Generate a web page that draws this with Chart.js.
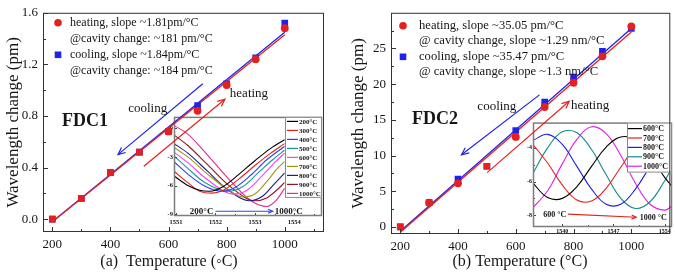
<!DOCTYPE html>
<html lang="en">
<head>
<meta charset="UTF-8">
<title>FDC wavelength change vs temperature</title>
<script src="https://cdn.jsdelivr.net/npm/chart.js@4.4.0/dist/chart.umd.min.js"></script>
<style>
  body { margin: 0; background: #fff; }
  .fig { position: relative; width: 675px; height: 276px; overflow: hidden; background: #fff; }
  .fig canvas { position: absolute; }
</style>
</head>
<body>
<div class="fig">
  <canvas id="insetA" style="left:160px;top:112px" width="165" height="117"></canvas>
  <canvas id="insetB" style="left:522px;top:118px" width="153" height="118"></canvas>
  <canvas id="mainA" style="left:0;top:0" width="338" height="276"></canvas>
  <canvas id="mainB" style="left:338px;top:0" width="337" height="276"></canvas>
</div>
<script>
// ---- data ----
const temps = [200, 300, 400, 500, 600, 700, 800, 900, 1000];

// (a) FDC1, wavelength change
const heatA = [0.00, 0.16, 0.36, 0.52, 0.68, 0.84, 1.04, 1.24, 1.48];
const coolA = [0.00, 0.16, 0.36, 0.52, 0.68, 0.88, 1.05, 1.25, 1.52];
const fitX = [200, 1000];
const fitHeatA = [-0.02, 1.43];
const fitCoolA = [-0.02, 1.45];

// (b) FDC2
const heatB = [0.0, 3.4, 6.1, 8.5, 12.6, 16.8, 20.2, 23.9, 28.1];
const coolB = [0.0, 3.4, 6.7, 8.5, 13.5, 17.5, 21.0, 24.6, 27.8];
const fitHeatB = [-0.75, 27.3];
const fitCoolB = [-0.6, 27.8];

// tick positions
const mainXTicks = [200, 300, 400, 500, 600, 700, 800, 900, 1000, 1100];
const yTicksA = [0, 0.2, 0.4, 0.6, 0.8, 1.0, 1.2, 1.4, 1.6];
const yTicksB = [0, 2.5, 5, 7.5, 10, 12.5, 15, 17.5, 20, 22.5, 25, 27.5];

// inset (a): transmission spectra, 200..1000 °C
const specALabels = ['200°C', '300°C', '400°C', '500°C', '600°C', '700°C', '800°C', '900°C', '1000°C'];
const specAX = [
  [1550.95, 1551.3, 1551.6, 1551.85, 1552.2, 1552.6, 1553.0, 1553.4, 1553.75],
  [1550.95, 1551.3, 1551.6, 1551.9, 1552.2, 1552.6, 1553.0, 1553.4, 1553.75],
  [1550.95, 1551.3, 1551.7, 1552.15, 1552.5, 1552.9, 1553.3, 1553.75],
  [1550.95, 1551.3, 1551.7, 1552.3, 1552.7, 1553.1, 1553.45, 1553.75],
  [1550.95, 1551.3, 1551.8, 1552.45, 1552.8, 1553.2, 1553.5, 1553.75],
  [1550.95, 1551.3, 1551.8, 1552.3, 1552.7, 1553.0, 1553.3, 1553.55, 1553.75],
  [1550.95, 1551.3, 1551.8, 1552.3, 1552.85, 1553.2, 1553.5, 1553.75],
  [1550.95, 1551.3, 1551.8, 1552.4, 1553.0, 1553.3, 1553.55, 1553.75],
  [1550.95, 1551.3, 1551.8, 1552.4, 1552.9, 1553.3, 1553.55, 1553.75]
];
const specAY = [
  [-5.0, -6.0, -6.5, -6.6, -6.1, -4.8, -3.4, -2.1, -1.2],
  [-4.5, -5.7, -6.6, -6.8, -6.5, -5.3, -3.9, -2.6, -1.6],
  [-3.5, -4.8, -6.0, -6.6, -6.2, -4.9, -3.3, -1.9],
  [-2.9, -4.2, -5.6, -6.6, -6.1, -4.6, -3.3, -2.3],
  [-2.5, -3.6, -5.4, -6.9, -6.5, -4.9, -3.6, -2.6],
  [-2.0, -3.0, -4.8, -6.4, -7.2, -6.9, -5.6, -4.3, -3.5],
  [-1.6, -2.6, -4.5, -6.4, -7.6, -7.1, -5.8, -4.7],
  [-0.7, -1.8, -3.8, -6.2, -7.6, -7.3, -6.5, -5.7],
  [0.3, -0.6, -2.8, -5.6, -7.6, -8.2, -7.5, -6.3]
];
const specAXTicks = [1551, 1551.5, 1552, 1552.5, 1553, 1553.5, 1554, 1554.5];
const specAYTicks = [0, -3, -6, -9];

// inset (b): transmission spectra, 600..1000 °C
const specBLabels = ['600°C', '700°C', '800°C', '900°C', '1000°C'];
const specBX = [1536, 1538, 1540, 1542, 1544, 1546, 1548, 1550, 1552, 1554, 1555];
const specBY = [
  [-6.1, -6.95, -7.0, -6.3, -5.1, -3.95, -3.35, -3.55, -4.5, -5.75, -6.3],
  [-3.8, -4.9, -6.2, -7.1, -7.15, -6.4, -5.15, -3.95, -3.35, -3.55, -3.95],
  [-3.55, -3.2, -3.8, -5.1, -6.45, -7.35, -7.35, -6.45, -5.1, -3.8, -3.4],
  [-5.5, -4.0, -3.05, -3.1, -4.1, -5.6, -7.0, -7.6, -7.2, -5.95, -5.15],
  [-7.55, -6.55, -4.95, -3.5, -2.75, -3.15, -4.45, -6.1, -7.35, -7.7, -7.45]
];
const specBXTicks = [1540, 1543.5, 1547, 1550.5, 1554];
const specBYTicks = [-3, -4, -5, -6, -7, -8];

// ---- styling ----
const SERIF = "'Liberation Serif', 'Times New Roman', serif";
const RED = '#e5201f';
const BLUE = '#1f22e8';
const INK = '#161616';
const specAColors = ['#000000', '#e3221c', '#2b3ff0', '#18999a', '#ff3cff', '#9c9a16', '#1c1c8f', '#8e1a1a', '#e62a8f'];
const specBColors = ['#000000', '#e3221c', '#2020e0', '#168a8a', '#e020e0'];
const heatStyleA = ['rect', 'rect', 'rect', 'rect', 'circle', 'circle', 'circle', 'circle', 'circle'];
const heatStyleB = ['rect', 'circle', 'circle', 'rect', 'circle', 'circle', 'circle', 'circle', 'circle'];

function drawArrow(ctx, x1, y1, x2, y2, color, head) {
  ctx.strokeStyle = color;
  ctx.lineWidth = 1.2;
  ctx.beginPath();
  ctx.moveTo(x1, y1);
  ctx.lineTo(x2, y2);
  ctx.stroke();
  const ang = Math.atan2(y2 - y1, x2 - x1);
  ctx.beginPath();
  ctx.moveTo(x2 - head * Math.cos(ang - 0.42), y2 - head * Math.sin(ang - 0.42));
  ctx.lineTo(x2, y2);
  ctx.lineTo(x2 - head * Math.cos(ang + 0.42), y2 - head * Math.sin(ang + 0.42));
  ctx.stroke();
}

// frame, inward ticks, arrows, notes and keys
const deco = {
  id: 'deco',
  afterDraw(chart, args, o) {
    const ctx = chart.ctx, a = chart.chartArea;
    const sx = chart.scales.x, sy = chart.scales.y;
    ctx.save();
    ctx.strokeStyle = o.tickColor;
    ctx.lineWidth = 1;
    ctx.beginPath();
    sx.ticks.forEach(t => {
      const px = Math.round(sx.getPixelForValue(t.value)) + 0.5;
      const len = t.label !== '' ? o.tickMajor : o.tickMinor;
      ctx.moveTo(px, a.bottom);
      ctx.lineTo(px, a.bottom - len);
    });
    sy.ticks.forEach(t => {
      const py = Math.round(sy.getPixelForValue(t.value)) + 0.5;
      const len = t.label !== '' ? o.tickMajor : o.tickMinor;
      ctx.moveTo(a.left, py);
      ctx.lineTo(a.left + len, py);
    });
    ctx.stroke();

    ctx.strokeStyle = o.frameColor;
    ctx.lineWidth = o.frameWidth;
    ctx.strokeRect(a.left + 0.5, a.top + 0.5, a.width - 1, a.height - 1);

    (o.box ? [o.box] : []).forEach(b => {
      const bx = a.left + b.dx, by = a.top + b.dy;
      ctx.fillStyle = '#fff';
      ctx.fillRect(bx, by, b.w, b.h);
      ctx.strokeStyle = '#8a8a8a';
      ctx.lineWidth = 1;
      ctx.strokeRect(bx + 0.5, by + 0.5, b.w - 1, b.h - 1);
      ctx.font = b.font;
      ctx.textAlign = 'left';
      ctx.textBaseline = 'middle';
      b.labels.forEach((lab, i) => {
        const ly = by + b.first + i * b.row;
        ctx.strokeStyle = b.colors[i];
        ctx.lineWidth = 1.2;
        ctx.beginPath();
        ctx.moveTo(bx + b.s0, ly);
        ctx.lineTo(bx + b.s1, ly);
        ctx.stroke();
        ctx.fillStyle = INK;
        ctx.fillText(lab, bx + b.tx, ly + 0.5);
      });
    });

    (o.arrows || []).forEach(r => {
      drawArrow(ctx, sx.getPixelForValue(r.from[0]), sy.getPixelForValue(r.from[1]),
        sx.getPixelForValue(r.to[0]), sy.getPixelForValue(r.to[1]), r.color, r.head);
    });

    ctx.textBaseline = 'middle';
    (o.notes || []).forEach(n => {
      ctx.font = n.font;
      ctx.fillStyle = INK;
      ctx.textAlign = n.align || 'left';
      ctx.fillText(n.text, sx.getPixelForValue(n.at[0]), sy.getPixelForValue(n.at[1]));
    });

    (o.keys || []).forEach(k => {
      const ly = a.top + k.dy;
      if (k.marker) {
        ctx.fillStyle = k.color;
        if (k.marker === 'circle') {
          ctx.beginPath();
          ctx.arc(a.left + k.mx, ly, 3.8, 0, 2 * Math.PI);
          ctx.fill();
        } else {
          ctx.fillRect(a.left + k.mx - 3.3, ly - 3.3, 6.6, 6.6);
        }
      }
      ctx.font = o.keyFont;
      ctx.fillStyle = INK;
      ctx.textAlign = 'left';
      ctx.fillText(k.text, a.left + k.tx, ly);
    });

    if (o.xTitle) {
      ctx.font = o.xTitle.font;
      ctx.fillStyle = INK;
      ctx.textAlign = 'center';
      ctx.fillText(o.xTitle.text, o.xTitle.x, o.xTitle.y);
    }
    ctx.restore();
  }
};

function pts(xs, ys) {
  return xs.map((v, i) => ({ x: v, y: ys[i] }));
}

function mainChart(id, p) {
  return new Chart(document.getElementById(id), {
    type: 'scatter',
    data: {
      datasets: [
        { data: pts(temps, p.heat), pointStyle: p.heatStyle, backgroundColor: RED, borderColor: RED,
          pointRadius: c => p.heatStyle[c.dataIndex] === 'rect' ? 4.7 : 3.9, borderWidth: 0, order: 0 },
        { data: pts(temps, p.cool), pointStyle: 'rect', backgroundColor: BLUE, borderColor: BLUE,
          pointRadius: 4.7, borderWidth: 0, order: 1 },
        { data: pts(fitX, p.fitHeat), showLine: true, borderColor: RED, borderWidth: 1.3, pointRadius: 0, order: 2 },
        { data: pts(fitX, p.fitCool), showLine: true, borderColor: BLUE, borderWidth: 1.3, pointRadius: 0, order: 3 }
      ]
    },
    options: {
      responsive: false,
      animation: false,
      events: [],
      layout: { padding: p.pad },
      scales: {
        x: {
          type: 'linear', min: 168, max: 1135,
          afterBuildTicks: s => { s.ticks = mainXTicks.map(v => ({ value: v })); },
          afterFit: s => { s.height = p.xh; },
          ticks: { callback: v => v % 200 === 0 ? String(v) : '', font: { family: SERIF, size: 13 },
            color: INK, padding: 5, maxRotation: 0, autoSkip: false },
          grid: { display: false, drawTicks: false },
          border: { display: false }
        },
        y: {
          type: 'linear', min: p.ymin, max: p.ymax,
          afterBuildTicks: s => { s.ticks = p.yTicks.map(v => ({ value: v })); },
          afterFit: s => { s.width = p.yw; },
          ticks: { callback: p.yLabel, font: { family: SERIF, size: 13 }, color: INK, padding: 5, autoSkip: false },
          grid: { display: false, drawTicks: false },
          border: { display: false },
          title: { display: true, text: 'Wavelength change (pm)', font: { family: SERIF, size: 17 },
            color: INK, padding: { top: p.titlePad, bottom: 0 } }
        }
      },
      plugins: {
        legend: { display: false },
        tooltip: { enabled: false },
        deco: {
          tickColor: '#333', frameColor: '#333', frameWidth: 1, tickMajor: 5, tickMinor: 3,
          keyFont: p.keyFont, keys: p.keys, notes: p.notes, arrows: p.arrows, xTitle: p.xTitle
        }
      }
    },
    plugins: [deco]
  });
}

function insetChart(id, p) {
  return new Chart(document.getElementById(id), {
    type: 'scatter',
    data: {
      datasets: p.ys.map((ys, i) => ({
        data: pts(p.xs[i], ys), showLine: true, borderColor: p.colors[i], borderWidth: 1.1,
        pointRadius: 0, tension: 0.4, cubicInterpolationMode: p.mode
      }))
    },
    options: {
      responsive: false,
      animation: false,
      events: [],
      layout: { padding: p.pad },
      scales: {
        x: {
          type: 'linear', min: p.xmin, max: p.xmax,
          afterBuildTicks: s => { s.ticks = p.xTicks.map(v => ({ value: v })); },
          afterFit: s => { s.height = p.xh; },
          ticks: { callback: p.xLabel, font: { family: SERIF, size: p.tickSize, weight: 'bold' },
            color: INK, padding: p.xpad, maxRotation: 0, autoSkip: false },
          grid: { display: false, drawTicks: false },
          border: { display: false }
        },
        y: {
          type: 'linear', min: p.ymin, max: p.ymax,
          afterBuildTicks: s => { s.ticks = p.yTicks.map(v => ({ value: v })); },
          afterFit: s => { s.width = p.yw; },
          ticks: { callback: p.yLabel, font: { family: SERIF, size: p.tickSize, weight: 'bold' },
            color: INK, padding: 1, autoSkip: false },
          grid: { display: false, drawTicks: false },
          border: { display: false }
        }
      },
      plugins: {
        legend: { display: false },
        tooltip: { enabled: false },
        deco: {
          tickColor: '#444', frameColor: '#7d7d7d', frameWidth: 1.5, tickMajor: 3, tickMinor: 2,
          box: p.box, notes: p.notes, arrows: p.arrows
        }
      }
    },
    plugins: [deco]
  });
}

insetChart('insetA', {
  xs: specAX, ys: specAY, colors: specAColors, mode: 'monotone',
  pad: { top: 4, right: 3, left: 0, bottom: 0 }, xh: 13, yw: 14, xpad: 2, tickSize: 6.5,
  xmin: 1550.95, xmax: 1554.7, ymin: -9.2, ymax: 1.2,
  xTicks: specAXTicks, yTicks: specAYTicks,
  xLabel: v => Number.isInteger(v) ? String(v) : '',
  yLabel: v => String(v),
  box: { dx: 111, dy: 0, w: 37, h: 81, first: 4.5, row: 9, s0: 2, s1: 13, tx: 14,
    font: 'bold 7px ' + SERIF, labels: specALabels, colors: specAColors },
  arrows: [{ from: [1552.0, -8.7], to: [1553.45, -8.7], color: '#1f4fe8', head: 5 }],
  notes: [
    { text: '200°C', at: [1551.95, -8.7], align: 'right', font: 'bold 9px ' + SERIF },
    { text: '1000°C', at: [1553.5, -8.75], font: 'bold 9px ' + SERIF }
  ]
});

insetChart('insetB', {
  xs: specBY.map(() => specBX), ys: specBY, colors: specBColors, mode: 'default',
  pad: { top: 4, right: 3, left: 0, bottom: 0 }, xh: 9, yw: 11, xpad: 1, tickSize: 6,
  xmin: 1536, xmax: 1555, ymin: -8.7, ymax: -2.5,
  xTicks: specBXTicks, yTicks: specBYTicks,
  xLabel: v => Number.isInteger(v) ? String(v) : '',
  yLabel: v => v % 2 === 0 ? String(v) : '',
  box: { dx: 94, dy: 0, w: 45, h: 50, first: 6, row: 9.4, s0: 1, s1: 15, tx: 16,
    font: 'bold 8px ' + SERIF, labels: specBLabels, colors: specBColors },
  arrows: [{ from: [1540.8, -7.94], to: [1550.1, -8.12], color: '#e3221c', head: 5 }],
  notes: [
    { text: '600 °C', at: [1537.4, -8.0], font: 'bold 8px ' + SERIF },
    { text: '1000 °C', at: [1550.6, -8.18], font: 'bold 8px ' + SERIF }
  ]
});

mainChart('mainA', {
  heat: heatA, cool: coolA, fitHeat: fitHeatA, fitCool: fitCoolA, heatStyle: heatStyleA,
  pad: { top: 6, right: 14, left: 0, bottom: 0 }, xh: 44, yw: 43, titlePad: 3,
  ymin: -0.1, ymax: 1.6, yTicks: yTicksA,
  yLabel: v => Math.round(v * 10) % 4 === 0 ? v.toFixed(1) : '',
  keyFont: '12px ' + SERIF,
  keys: [
    { dy: 10, marker: 'circle', color: RED, mx: 15, tx: 27, text: 'heating, slope ~1.81pm/°C' },
    { dy: 26, tx: 27, text: '@cavity change: ~181 pm/°C' },
    { dy: 42, marker: 'rect', color: BLUE, mx: 15, tx: 27, text: 'cooling, slope ~1.84pm/°C' },
    { dy: 58, tx: 27, text: '@cavity change: ~184 pm/°C' }
  ],
  arrows: [
    { from: [718, 1.05], to: [426, 0.50], color: BLUE, head: 8 },
    { from: [515, 0.41], to: [794, 0.93], color: RED, head: 8 }
  ],
  notes: [
    { text: 'FDC1', at: [233, 0.76], font: 'bold 18px ' + SERIF },
    { text: 'cooling', at: [461, 0.86], font: '13px ' + SERIF },
    { text: 'heating', at: [811, 0.97], font: '13px ' + SERIF }
  ],
  xTitle: { text: '(a)  Temperature (◦C)', x: 169, y: 262, font: '16px ' + SERIF }
});

mainChart('mainB', {
  heat: heatB, cool: coolB, fitHeat: fitHeatB, fitCool: fitCoolB, heatStyle: heatStyleB,
  pad: { top: 7, right: 2, left: 0, bottom: 0 }, xh: 42, yw: 53, titlePad: 10,
  ymin: -1, ymax: 30, yTicks: yTicksB,
  yLabel: v => v % 5 === 0 ? String(v) : '',
  keyFont: '12.6px ' + SERIF,
  keys: [
    { dy: 13, marker: 'circle', color: RED, mx: 12, tx: 28, text: 'heating, slope ~35.05 pm/°C' },
    { dy: 28, tx: 28, text: '@ cavity change, slope ~1.29 nm/°C' },
    { dy: 44, marker: 'rect', color: BLUE, mx: 12, tx: 28, text: 'cooling, slope ~35.47 pm/°C' },
    { dy: 59, tx: 28, text: '@ cavity change, slope ~1.3 nm/°C' }
  ],
  arrows: [
    { from: [682, 18.5], to: [412, 10.1], color: BLUE, head: 8 },
    { from: [501, 7.6], to: [785, 17.6], color: RED, head: 8 }
  ],
  notes: [
    { text: 'FDC2', at: [241, 15.0], font: 'bold 18px ' + SERIF },
    { text: 'cooling', at: [467, 16.8], font: '13px ' + SERIF },
    { text: 'heating', at: [791, 17.0], font: '13px ' + SERIF }
  ],
  xTitle: { text: '(b) Temperature (°C)', x: 182, y: 262, font: '16px ' + SERIF }
});
</script>
</body>
</html>
